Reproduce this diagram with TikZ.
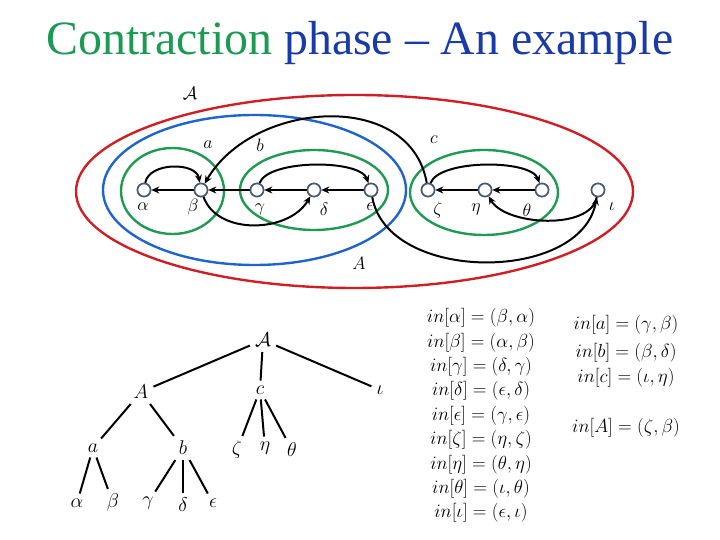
\RequirePackage{fix-cm}
\documentclass[tikz,border=0pt]{standalone}
\usepackage{amsmath,amssymb}
\usepackage{fontspec}
\setmainfont{Liberation Serif}
\usetikzlibrary{arrows.meta,positioning}

\definecolor{titlegreen}{HTML}{1A9A52}
\definecolor{titleblue}{HTML}{1A3AA6}
\definecolor{setred}{HTML}{D01E24}
\definecolor{setblue}{HTML}{1F63CC}
\definecolor{setgreen}{HTML}{1E9A52}
\definecolor{vertgray}{HTML}{4A5870}

\begin{document}
\begin{tikzpicture}[x=1bp,y=1bp,
    vert/.style={circle,draw=vertgray,fill=white,line width=1.6pt,minimum size=13bp,inner sep=0pt},
    edge/.style={line width=2pt,-{Stealth[length=8pt,width=7pt]}},
    setline/.style={line width=2.4pt},
    lab/.style={font=\fontsize{18}{20}\selectfont},
    tlab/.style={font=\fontsize{20}{22}\selectfont,inner sep=5pt},
    tedge/.style={line width=2pt},
    eqn/.style={font=\fontsize{19}{21}\selectfont,inner sep=0pt}]
    \useasboundingbox (0,0) rectangle (720,540);

    % Title
    \node[anchor=base,font=\fontsize{48}{52}\selectfont] (title) at (360,485)
        {\textcolor{titlegreen}{Contraction} \textcolor{titleblue}{phase -- An example}};

    % Draw the nested sets
    \draw[setline,setred] (354.5,348.5) ellipse [x radius=278.5, y radius=96.5];
    \draw[setline,setblue] (254.5,350) ellipse [x radius=151.5, y radius=75];
    \draw[setline,setgreen] (172.5,349) ellipse [x radius=51.5, y radius=43];
    \draw[setline,setgreen] (314,350) ellipse [x radius=74, y radius=40];
    \draw[setline,setgreen] (484,347.5) ellipse [x radius=74, y radius=42.5];

    % Vertices of the graph
    \node[vert] (alpha) at (144,350) {};
    \node[vert] (beta)  at (201,350) {};
    \node[vert] (gamma) at (257,350) {};
    \node[vert] (delta) at (314,350) {};
    \node[vert] (eps)   at (371,350) {};
    \node[vert] (zeta)  at (428,350) {};
    \node[vert] (eta)   at (485,350) {};
    \node[vert] (theta) at (542,350) {};
    \node[vert] (iota)  at (598,350) {};

    % Straight edges
    \draw[edge] (beta) -- (alpha);
    \draw[edge] (gamma) -- (beta);
    \draw[edge] (delta) -- (gamma);
    \draw[edge] (eps) -- (delta);
    \draw[edge] (eta) -- (zeta);
    \draw[edge] (theta) -- (eta);

    % Curved edges
    \draw[edge] (alpha) to[out=80,in=100] (beta);
    \draw[edge] (gamma) to[out=70,in=110,looseness=0.6] (eps);
    \draw[edge] (zeta) to[out=70,in=110,looseness=0.6] (theta);
    \draw[edge] (beta) to[out=-70,in=-120] (delta);
    \draw[edge] (iota) to[out=-100,in=-60,looseness=0.8] (eta);
    \draw[edge] (eps) to[out=-80,in=-100] (iota);
    \draw[edge] (zeta) to[out=100,in=60,looseness=1.1] (beta);

    % Redraw the vertices on top
    \foreach \v in {alpha,beta,gamma,delta,eps,zeta,eta,theta,iota}
        \node[vert] at (\v) {};

    % Vertex labels
    \node[lab] (lalpha) at (143,333) {$\alpha$};
    \node[lab] (lbeta)  at (193,333) {$\beta$};
    \node[lab] (lgamma) at (260,331) {$\gamma$};
    \node[lab] (ldelta) at (324,331) {$\delta$};
    \node[lab] (leps)   at (370,333) {$\epsilon$};
    \node[lab] (lzeta)  at (438,330) {$\zeta$};
    \node[lab] (leta)   at (476,331) {$\eta$};
    \node[lab] (ltheta) at (527,330) {$\theta$};
    \node[lab] (liota)  at (612,333) {$\iota$};

    % Set labels
    \node[lab] (setcalA) at (190,447) {$\mathcal{A}$};
    \node[lab] (seta)    at (208,395) {$a$};
    \node[lab] (setb)    at (260,395) {$b$};
    \node[lab] (setc)    at (434,400) {$c$};
    \node[lab] (setA)    at (359,277) {$A$};

    % Tree of the contraction
    \node[tlab] (troot)  at (263,200) {$\mathcal{A}$};
    \node[tlab] (tA)     at (141,148) {$A$};
    \node[tlab] (tc)     at (260,150) {$c$};
    \node[tlab] (tiota)  at (380,150) {$\iota$};
    \node[tlab] (ta)     at (93,92)   {$a$};
    \node[tlab] (tb)     at (183,92)  {$b$};
    \node[tlab] (tzeta)  at (237,90)  {$\zeta$};
    \node[tlab] (teta)   at (265,92)  {$\eta$};
    \node[tlab] (ttheta) at (292,90)  {$\theta$};
    \node[tlab] (talpha) at (77,37)   {$\alpha$};
    \node[tlab] (tbeta)  at (113,37)  {$\beta$};
    \node[tlab] (tgamma) at (148,37)  {$\gamma$};
    \node[tlab] (tdelta) at (183,35)  {$\delta$};
    \node[tlab] (teps)   at (213,37)  {$\epsilon$};

    \draw[tedge] (troot) -- (tA);
    \draw[tedge] (troot) -- (tc);
    \draw[tedge] (troot) -- (tiota);
    \draw[tedge] (tA) -- (ta);
    \draw[tedge] (tA) -- (tb);
    \draw[tedge] (tc) -- (tzeta);
    \draw[tedge] (tc) -- (teta);
    \draw[tedge] (tc) -- (ttheta);
    \draw[tedge] (ta) -- (talpha);
    \draw[tedge] (ta) -- (tbeta);
    \draw[tedge] (tb) -- (tgamma);
    \draw[tedge] (tb) -- (tdelta);
    \draw[tedge] (tb) -- (teps);

    % In-edges of the vertices
    \foreach \v/\p [count=\i from 0] in {\alpha/{\beta,\alpha}, \beta/{\alpha,\beta},
        \gamma/{\delta,\gamma}, \delta/{\epsilon,\delta}, \epsilon/{\gamma,\epsilon},
        \zeta/{\eta,\zeta}, \eta/{\theta,\eta}, \theta/{\iota,\theta}, \iota/{\epsilon,\iota}}
        \node[eqn] (in\i) at (481,{222-24.4*\i}) {$in[\v]=(\p)$};

    % In-edges of the contracted sets
    \node[eqn] (ina) at (626,215) {$in[a]=(\gamma,\beta)$};
    \node[eqn] (inb) at (626,187) {$in[b]=(\beta,\delta)$};
    \node[eqn] (inc) at (626,162) {$in[c]=(\iota,\eta)$};
    \node[eqn] (inA) at (626,112) {$in[A]=(\zeta,\beta)$};
\end{tikzpicture}
\end{document}
